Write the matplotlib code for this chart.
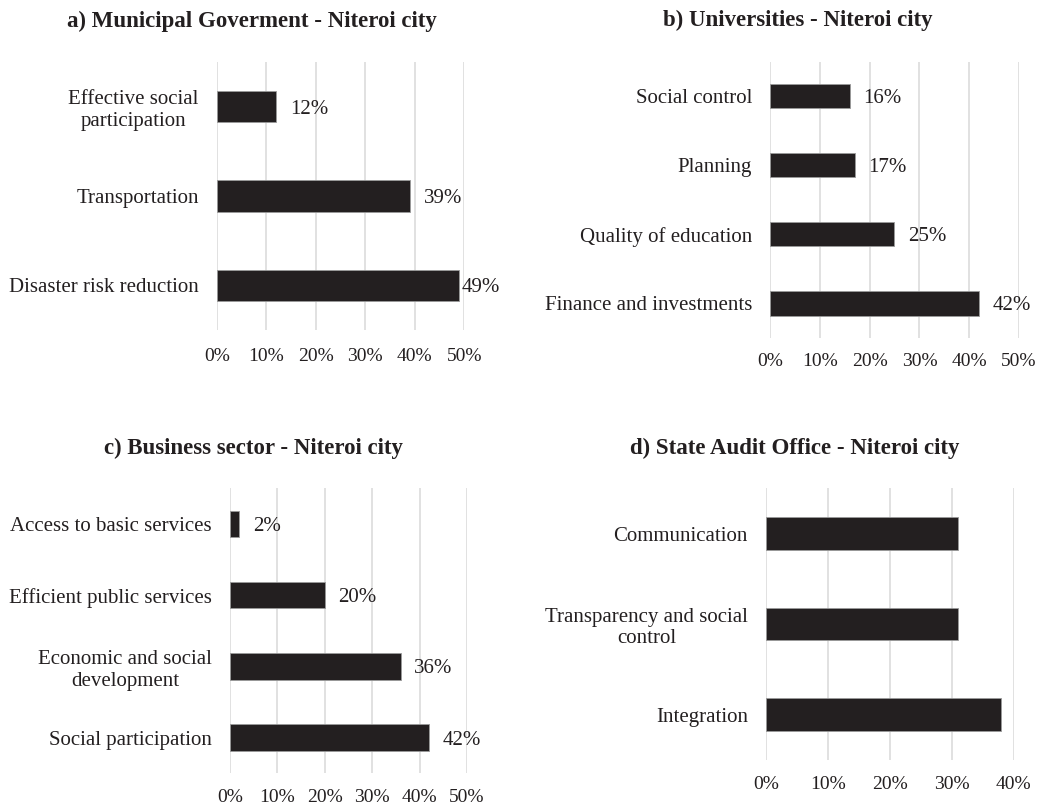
import matplotlib
matplotlib.use("Agg")
import matplotlib.pyplot as plt
from matplotlib.ticker import FuncFormatter

plt.rcParams['font.family'] = ['Liberation Serif', 'DejaVu Serif']

# ---- data ----
titles = [
    "a) Municipal Goverment - Niteroi city",
    "b) Universities - Niteroi city",
    "c) Business sector - Niteroi city",
    "d) State Audit Office - Niteroi city",
]
cats_a = ["Disaster risk reduction", "Transportation", "Effective social\nparticipation"]
vals_a = [49, 39, 12]
cats_b = ["Finance and investments", "Quality of education", "Planning", "Social control"]
vals_b = [42, 25, 17, 16]
cats_c = ["Social participation", "Economic and social\ndevelopment",
          "Efficient public services", "Access to basic services"]
vals_c = [42, 36, 20, 2]
cats_d = ["Integration", "Transparency and social\ncontrol", "Communication"]
vals_d = [38, 31, 31]
xticks_50 = [0, 10, 20, 30, 40, 50]
xticks_40 = [0, 10, 20, 30, 40]

panels = [
    dict(cats=cats_a, vals=vals_a, ticks=xticks_50, labels=True,
         rect=[0.2088, 0.5926, 0.2385, 0.3309], bh=0.35, xpad=13.0),
    dict(cats=cats_b, vals=vals_b, ticks=xticks_50, labels=True,
         rect=[0.7418, 0.5827, 0.2399, 0.3411], bh=0.35, xpad=10.5),
    dict(cats=cats_c, vals=vals_c, ticks=xticks_50, labels=True,
         rect=[0.2216, 0.0453, 0.2283, 0.3519], bh=0.37, xpad=11.0),
    dict(cats=cats_d, vals=vals_d, ticks=xticks_40, labels=False,
         rect=[0.7380, 0.0617, 0.2386, 0.3355], bh=0.36, xpad=11.5),
]

bar_color = '#231f20'
grid_color = '#d9d9d9'
text_color = '#231f20'

fig = plt.figure(figsize=(10.38, 8.10), dpi=100)

for p in panels:
    ax = fig.add_axes(p['rect'])
    n = len(p['cats'])
    ypos = list(range(n))
    ax.barh(ypos, p['vals'], height=p['bh'], color=bar_color,
            edgecolor='#9a9a9a', linewidth=0.6, zorder=3)
    xmax = p['ticks'][-1]
    ax.set_xlim(0, xmax)
    ax.set_ylim(-0.5, n - 0.5)
    ax.set_xticks(p['ticks'])
    ax.xaxis.set_major_formatter(FuncFormatter(lambda v, pos: f"{int(round(v))}%"))
    ax.set_yticks(ypos)
    ax.set_yticklabels(p['cats'], multialignment='center', linespacing=1.2)
    ax.tick_params(axis='y', length=0, pad=13, labelsize=15, labelcolor=text_color)
    ax.tick_params(axis='x', length=0, pad=p['xpad'], labelsize=14, labelcolor=text_color)
    ax.grid(axis='x', color=grid_color, linewidth=1.1, zorder=0)
    ax.set_axisbelow(True)
    for s in ax.spines.values():
        s.set_visible(False)
    if p['labels']:
        off = 2.8 * xmax / 50
        for y, v in zip(ypos, p['vals']):
            x = v + off if v + off <= xmax else v + 0.5
            ax.text(x, y, f"{v}%", va='center_baseline', ha='left', fontsize=15,
                    color=text_color, clip_on=False)

# titles at measured centres
title_pos = [(251.7, 21.7), (798, 20.5), (253, 448), (795, 448)]
for title, (cx, cy) in zip(titles, title_pos):
    fig.text(cx / 1038, 1 - cy / 810, title, ha='center', va='center',
             fontsize=16.5, fontweight='bold', color=text_color)

fig.savefig("out.png", dpi=100)
